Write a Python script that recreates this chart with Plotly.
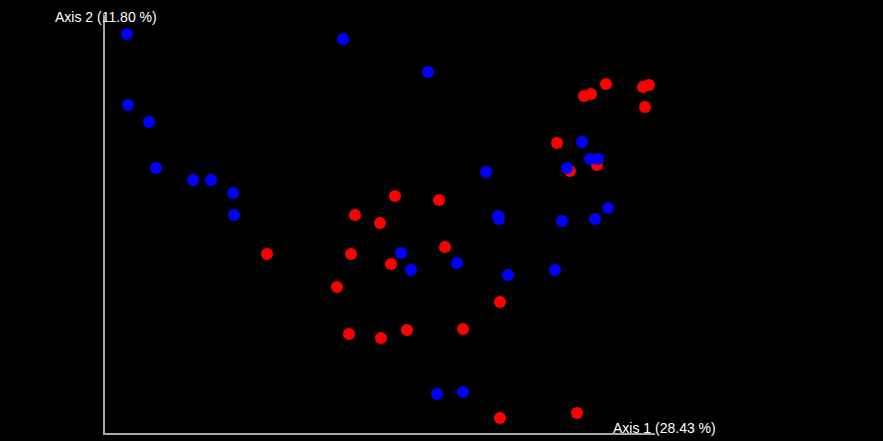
import plotly.graph_objects as go

# PCoA coordinates (Axis 1, Axis 2)
blue_pc1 = [-0.253, -0.037, 0.048, -0.252, -0.231, -0.224, -0.187, -0.169, -0.147, -0.146,
            0.106, 0.202, 0.210, 0.218, 0.187, 0.228, 0.215, 0.182, 0.118, 0.119,
            0.021, 0.031, 0.077, 0.128, 0.175, 0.057, 0.083]
blue_pc2 = [0.216, 0.211, 0.178, 0.145, 0.128, 0.082, 0.070, 0.070, 0.057, 0.035,
            0.078, 0.108, 0.091, 0.091, 0.082, 0.042, 0.031, 0.029, 0.034, 0.031,
            -0.003, -0.020, -0.013, -0.025, -0.020, -0.144, -0.142]

red_pc1 = [0.177, 0.190, 0.217, 0.204, 0.211, 0.226, 0.263, 0.269, 0.265,
           0.015, 0.059, -0.025, 0.000, 0.065, -0.113, -0.029, 0.011, -0.043,
           0.120, -0.031, 0.001, 0.027, 0.083, 0.120, 0.197]
red_pc2 = [0.107, 0.079, 0.085, 0.154, 0.156, 0.166, 0.163, 0.165, 0.143,
           0.054, 0.050, 0.035, 0.027, 0.003, -0.004, -0.004, -0.014, -0.037,
           -0.052, -0.084, -0.088, -0.080, -0.079, -0.168, -0.163]

axis1_label = "Axis 1 (28.43 %)"
axis2_label = "Axis 2 (11.80 %)"

fig = go.Figure()
fig.add_trace(go.Scatter(x=red_pc1, y=red_pc2, mode="markers",
                         marker=dict(color="#ff0000", size=12, line=dict(width=0)),
                         showlegend=False))
fig.add_trace(go.Scatter(x=blue_pc1, y=blue_pc2, mode="markers",
                         marker=dict(color="#0000ff", size=12, line=dict(width=0)),
                         showlegend=False))

fig.update_layout(
    width=883, height=441,
    margin=dict(l=105, r=228, t=15, b=8),
    paper_bgcolor="#000000", plot_bgcolor="#000000",
    xaxis=dict(range=[-0.275, 0.275], showgrid=False, zeroline=False, showticklabels=False,
               ticks="", showline=True, linecolor="#a8a8a8", linewidth=1.5),
    yaxis=dict(range=[-0.183, 0.235], showgrid=False, zeroline=False, showticklabels=False,
               ticks="", showline=True, linecolor="#a8a8a8", linewidth=1.5),
    font=dict(family="Liberation Sans, Arial, sans-serif", color="#ffffff", size=14),
    annotations=[
        dict(text=axis1_label, xref="paper", yref="paper", x=0.92, y=0.012,
             xanchor="left", yanchor="middle", showarrow=False,
             font=dict(size=14, color="#ffffff")),
        dict(text=axis2_label, xref="paper", yref="paper", x=-0.0945, y=0.995,
             xanchor="left", yanchor="middle", showarrow=False,
             font=dict(size=14, color="#ffffff")),
    ],
)

fig.write_html(
    "out.html",
    config={"displayModeBar": False},
    post_script="document.body.style.margin='0';document.body.style.backgroundColor='#000';",
)
